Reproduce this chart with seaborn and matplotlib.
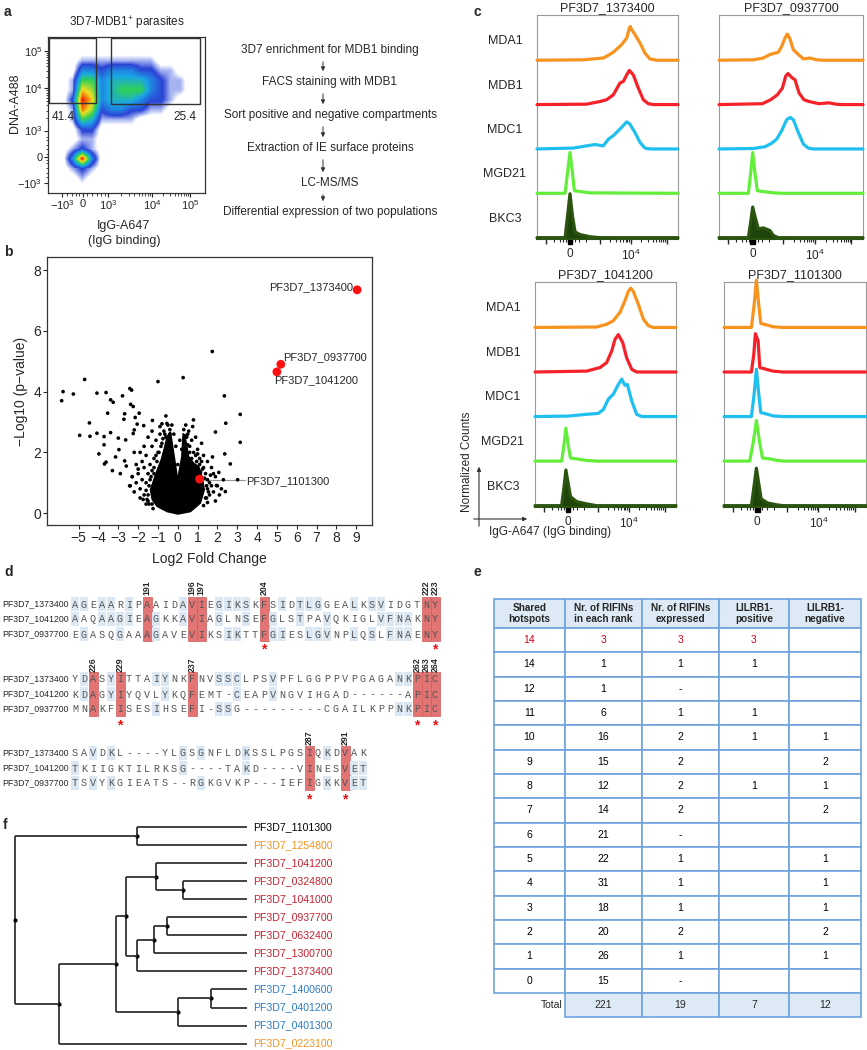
import numpy as np
import pandas as pd
import matplotlib
matplotlib.use("Agg")
import matplotlib.pyplot as plt
import seaborn as sns
from matplotlib.patches import Rectangle
from matplotlib.colors import LinearSegmentedColormap

W, H = 867, 1050

sns.set_style("ticks")
plt.rcParams['font.family'] = ['Liberation Sans', 'DejaVu Sans']
plt.rcParams['mathtext.fontset'] = 'custom'
plt.rcParams['mathtext.rm'] = 'Liberation Sans'
plt.rcParams['mathtext.it'] = 'Liberation Sans:italic'
plt.rcParams['mathtext.bf'] = 'Liberation Sans:bold'

# ---------------- data ----------------
# a: FACS dot plot, density read per cell (16 x 16, bottom row first)
facs_density = [
    [0, 0, 0, 0, 0, 0, 0, 0, 0, 0, 0, 0, 0, 0, 0, 0],
    [0, 0, 0, 1, 0, 0, 0, 0, 0, 0, 0, 0, 0, 0, 0, 0],
    [0, 0, 1, 2, 1, 0, 0, 0, 0, 0, 0, 0, 0, 0, 0, 0],
    [0, 0, 3, 9, 3, 0, 0, 0, 0, 0, 0, 0, 0, 0, 0, 0],
    [0, 0, 1, 2, 1, 0, 0, 0, 0, 0, 0, 0, 0, 0, 0, 0],
    [0, 0, 0, 1, 1, 0, 0, 0, 0, 0, 0, 0, 0, 0, 0, 0],
    [0, 0, 0, 2, 2, 0, 0, 0, 0, 0, 0, 0, 0, 0, 0, 0],
    [0, 0, 1, 5, 4, 1, 1, 1, 1, 0, 0, 0, 0, 0, 0, 0],
    [0, 0, 1, 8, 6, 2, 3, 3, 2, 2, 1, 1, 0, 0, 0, 0],
    [0, 0, 2, 9, 7, 3, 4, 4, 4, 3, 2, 2, 1, 0, 0, 0],
    [0, 0, 1, 7, 6, 3, 4, 5, 5, 5, 3, 2, 1, 1, 0, 0],
    [0, 0, 1, 5, 5, 3, 4, 4, 4, 4, 3, 2, 1, 1, 0, 0],
    [0, 0, 0, 3, 3, 2, 3, 3, 3, 2, 2, 1, 1, 0, 0, 0],
    [0, 0, 0, 1, 1, 1, 1, 1, 1, 1, 1, 0, 0, 0, 0, 0],
    [0, 0, 0, 0, 0, 0, 0, 0, 0, 0, 0, 0, 0, 0, 0, 0],
    [0, 0, 0, 0, 0, 0, 0, 0, 0, 0, 0, 0, 0, 0, 0, 0],
]
gate_left = (0.006, 0.574, 0.306, 0.995)
gate_right = (0.40, 0.568, 0.97, 0.995)
gate_pct = ["41.4", "25.4"]
flow_steps = ["3D7 enrichment for MDB1 binding", "FACS staining with MDB1",
              "Sort positive and negative compartments", "Extraction of IE surface proteins",
              "LC-MS/MS", "Differential expression of two populations"]

# b: volcano plot
vol_x = [1.74, 0.27, -1.0, -4.7, -5.79, -5.86, -5.27, -4.08, -3.62, -2.42, -2.33, -2.79, -3.39,
         -3.26, -2.38, -2.25, 2.35, 3.15, -3.54, -2.68, -2.72, -4.46, -4.95, -4.43, -4.08, -3.72,
         -3.39, -3.0, -2.63, -2.2, -2.25, -1.95, -2.15, -2.05, -1.72, -1.28, -0.8, -0.6, 0.79,
         2.42, 1.9, 3.15, 2.37, -3.98, -3.62, -3.72, -2.97, -3.14, -2.68, -2.43, 2.65, 2.4, 3.02,
         1.75, 2.07, 1.95, -3.7, -3.3, -2.9, -2.6, -2.3, -2.0, -1.7, -1.5, -1.3, -0.9, -0.4, 0.55,
         0.9, 1.2, 1.5, 0.75,
         -1.9, -1.8, -1.7, -1.6, -1.5, -1.4, -1.3, -1.2, -1.1, -1.0, -0.9, -0.8, -0.7, -0.6, -0.5,
         -0.4, -2.1, -2.0, -1.9, -1.8, -1.7, -1.6, -1.5, -1.4, -1.6, -1.9, -2.2, -2.3, -2.4, -2.1,
         -2.2, -1.3, -1.2, 0.3, 0.5, 0.6, 0.7, 0.8, 0.9, 1.0, 1.1, 1.2, 1.3, 1.4, 1.5, 1.5, 1.6,
         1.6, 1.7, 1.4, 1.8, 1.9, 1.7, 1.8, 2.0, 2.1, 1.9, 1.3, 1.15, 2.2, 2.3, -0.2, -0.1, 0.1,
         0.2, 0.0, -0.3, 0.4, 0.45,
         -1.45, -1.5, -1.45, -1.35, -1.2, -1.05, -0.95, -0.85, -0.75, -0.65, -1.6, -1.55, -1.3,
         -1.1, 1.45, 1.45, 1.35, 1.25, 1.1, 0.95, 0.7, 0.6, 0.5, 1.55, 1.5, 1.3, -1.75, -1.25,
         -0.55, 0.35, 1.0, 1.65]
vol_y = [5.32, 4.46, 4.33, 4.4, 4.0, 3.7, 3.92, 3.95, 3.97, 4.1, 4.05, 3.86, 3.73,
         3.65, 3.58, 3.51, 3.86, 3.25, 3.29, 3.27, 3.09, 2.97, 2.56, 2.53, 2.63, 2.52,
         2.65, 2.47, 2.41, 2.74, 2.62, 3.29, 3.15, 2.93, 2.88, 3.05, 2.94, 3.2, 3.07,
         2.96, 2.67, 2.33, 1.95, 1.95, 1.68, 2.25, 2.09, 1.85, 1.72, 0.9, 1.62, 0.71, 1.1,
         1.85, 1.34, 0.91, 1.62, 1.4, 1.3, 1.55, 1.2, 1.45, 2.2, 2.5, 2.7, 2.85, 2.75, 2.7,
         2.5, 2.3, 1.7, 2.85,
         2.0, 1.7, 1.5, 1.9, 1.3, 1.6, 2.2, 1.8, 2.4, 2.0, 2.6, 2.3, 2.7, 2.5, 2.9,
         2.6, 1.0, 1.3, 0.8, 1.1, 0.6, 1.0, 0.4, 1.1, 0.3, 0.5, 0.7, 1.2, 0.9, 1.6,
         2.0, 0.3, 1.3, 2.75, 2.6, 2.2, 2.4, 2.0, 1.9, 2.1, 1.8, 1.7, 1.5, 1.3, 1.1, 0.8, 1.0,
         0.6, 0.9, 0.5, 0.7, 1.2, 1.5, 1.3, 0.9, 0.6, 0.4, 1.9, 1.35, 0.8, 1.1, 2.6, 2.2, 2.4,
         2.1, 1.6, 2.9, 2.9, 2.5,
         0.3, 0.6, 0.9, 1.2, 1.5, 1.7, 2.0, 2.2, 2.45, 2.6, 0.75, 0.45, 1.4,
         1.9, 0.5, 0.9, 1.15, 1.45, 1.6, 1.7, 1.8, 2.0, 2.25, 0.7, 0.35, 0.25, 0.45, 0.15,
         2.95, 2.55, 1.95, 1.25]
# outline of the saturated core of the volcano
core_x = [0.0, -0.54, -1.04, -1.29, -1.38, -1.21, -1.04, -0.84, -0.70, -0.54, -0.37, -0.23,
          -0.06, 0.0, 0.06, 0.2, 0.27, 0.40, 0.55, 0.81, 1.06, 1.22, 1.34, 1.14, 0.64]
core_y = [-0.03, 0.05, 0.22, 0.44, 0.77, 1.10, 1.42, 1.75, 2.08, 2.52, 2.68, 2.08,
          1.35, 1.05, 1.35, 1.86, 2.63, 2.41, 1.86, 1.64, 1.53, 1.21, 0.77, 0.33, 0.05]
hit_names = ["PF3D7_1373400", "PF3D7_0937700", "PF3D7_1041200", "PF3D7_1101300"]
hit_x = [9.05, 5.2, 5.0, 1.1]
hit_y = [7.35, 4.9, 4.65, 1.12]

# c: histograms (x in display units 0-100, height in lane units)
c_antibodies = ["MDA1", "MDB1", "MDC1", "MGD21", "BKC3"]
c_colors = ["#F7931E", "#F5222A", "#1FBFEF", "#62EE3A", "#2B5410"]
c_1373400 = {
    "MDA1": ([32.8, 47.0, 49.4, 54.1, 60.0, 63.6, 65.5, 66.2, 67.1, 69.5, 73.0, 76.6, 80.1, 84.9],
             [0.01, 0.05, 0.09, 0.18, 0.35, 0.5, 0.72, 0.76, 0.69, 0.58, 0.39, 0.16, 0.03, 0.0]),
    "MDB1": ([35.2, 44.7, 49.4, 54.1, 58.9, 61.2, 63.6, 65.5, 68.3, 71.9, 75.4, 78.9, 82.5],
             [0.01, 0.07, 0.11, 0.22, 0.49, 0.52, 0.67, 0.77, 0.67, 0.37, 0.11, 0.02, 0.0]),
    "MDC1": ([25.8, 35.2, 41.1, 47.0, 50.6, 54.1, 58.9, 63.6, 65.9, 69.5, 73.0, 76.6, 80.1],
             [0.02, 0.07, 0.1, 0.07, 0.22, 0.3, 0.45, 0.61, 0.56, 0.37, 0.15, 0.02, 0.0]),
    "MGD21": ([19.9, 21.7, 23.4, 25.1, 26.5, 30.5, 37.6], [0.0, 0.47, 0.92, 0.47, 0.06, 0.04, 0.01]),
    "BKC3": ([19.9, 21.7, 23.4, 25.1, 27.0, 30.5, 37.6, 44.7], [0.0, 0.5, 0.99, 0.5, 0.13, 0.07, 0.02, 0.0]),
}
c_0937700 = {
    "MDA1": ([23.8, 30.8, 35.4, 41.2, 43.5, 45.8, 47.5, 49.3, 51.6, 55.1, 58.6, 63.2, 67.8, 72.5],
             [0.01, 0.05, 0.13, 0.18, 0.31, 0.5, 0.59, 0.48, 0.24, 0.13, 0.03, 0.05, 0.01, 0.0]),
    "MDB1": ([30.1, 35.9, 40.5, 44.0, 46.3, 47.9, 50.9, 52.8, 55.6, 59.0, 62.5, 69.4, 76.4, 81.0, 85.6],
             [0.02, 0.11, 0.22, 0.37, 0.64, 0.7, 0.6, 0.56, 0.26, 0.11, 0.07, 0.02, 0.04, 0.01, 0.0]),
    "MDC1": ([23.8, 31.9, 36.6, 40.0, 43.5, 47.0, 49.3, 51.6, 55.1, 58.6, 62.0, 65.5],
             [0.01, 0.05, 0.13, 0.22, 0.41, 0.66, 0.71, 0.66, 0.37, 0.11, 0.02, 0.0]),
    "MGD21": ([20.4, 22.0, 23.4, 25.0, 26.6, 30.8, 37.7, 44.7], [0.0, 0.45, 0.92, 0.45, 0.06, 0.04, 0.01, 0.0]),
    "BKC3": ([20.4, 22.0, 23.4, 25.2, 27.3, 30.8, 35.4, 37.7, 41.2],
             [0.0, 0.35, 0.69, 0.45, 0.2, 0.22, 0.16, 0.05, 0.0]),
}
c_1041200 = {
    "MDA1": ([43.7, 50.8, 55.5, 60.3, 63.8, 66.2, 67.9, 69.7, 73.3, 76.8, 80.4, 83.9],
             [0.01, 0.07, 0.15, 0.34, 0.6, 0.81, 0.88, 0.81, 0.52, 0.19, 0.04, 0.0]),
    "MDB1": ([36.6, 46.1, 50.8, 54.4, 56.7, 59.1, 62.2, 65.0, 68.6, 72.1],
             [0.02, 0.1, 0.21, 0.47, 0.73, 0.84, 0.66, 0.32, 0.06, 0.0]),
    "MDC1": ([23.2, 36.6, 44.9, 48.5, 52.0, 55.5, 59.1, 61.5, 63.8, 65.5, 68.6, 72.1, 75.7],
             [0.01, 0.05, 0.07, 0.16, 0.39, 0.5, 0.72, 0.84, 0.7, 0.72, 0.35, 0.05, 0.0]),
    "MGD21": ([18.9, 20.5, 21.9, 23.6, 25.2, 29.6, 36.6, 43.7], [0.0, 0.35, 0.74, 0.35, 0.07, 0.05, 0.015, 0.0]),
    "BKC3": ([18.9, 20.5, 21.9, 23.8, 25.2, 29.6, 36.6, 43.7], [0.0, 0.4, 0.8, 0.45, 0.2, 0.09, 0.04, 0.0]),
}
c_1101300 = {
    "MDA1": ([19.3, 21.2, 22.8, 24.5, 25.9, 29.8, 34.5, 41.5], [0.0, 0.5, 1.06, 0.5, 0.09, 0.06, 0.015, 0.0]),
    "MDB1": ([19.3, 21.0, 22.1, 24.0, 25.2, 29.8, 34.5, 41.5], [0.0, 0.4, 0.86, 0.7, 0.1, 0.06, 0.02, 0.0]),
    "MDC1": ([19.3, 21.2, 22.8, 24.5, 25.9, 29.8, 34.5, 41.5], [0.0, 0.5, 1.06, 0.5, 0.09, 0.06, 0.015, 0.0]),
    "MGD21": ([18.1, 20.5, 22.8, 25.2, 27.1, 32.2, 36.9, 41.5], [0.0, 0.4, 0.91, 0.4, 0.07, 0.05, 0.02, 0.0]),
    "BKC3": ([19.3, 21.2, 22.8, 24.7, 26.2, 30.7, 36.9, 41.5], [0.0, 0.45, 0.84, 0.45, 0.15, 0.06, 0.02, 0.0]),
}

# d: alignment
seq_names = ["PF3D7_1373400", "PF3D7_1041200", "PF3D7_0937700"]
block1 = ["AGEAARIPAAIDAVIEGIKSKFSIDTLGGEALKSVIDGTNY",
          "AAQAAGIEAGKKAVIAGLNSEFGLSTPAVQKIGLVFNAKNY",
          "EGASQGAAAGAVEVIKSIKTTFGIESLGVNPLQSLFNAENY"]
block1_hot = [8, 13, 14, 21, 39, 40]
block1_pos = [191, 196, 197, 204, 222, 223]
block1_star = [21, 40]
block2 = ["YDASYITTAIYNKFNVSSCLPSVPFLGGPPVPGAGANKPIC",
          "KDAGYIYQVLYKQFEMT-CEAPVNGVIHGAD------APIC",
          "MNAKFISESIHSEFI-SSG---------CGAILKPPNKPIC"]
block2_hot = [2, 5, 13, 38, 39, 40]
block2_pos = [226, 229, 237, 262, 263, 264]
block2_star = [5, 38, 40]
block3 = ["SAVDKL----YLGSGNFLDKSSLPGSIQKDVAK",
          "TKIIGKTILRKSG----TAKD----VINESVET",
          "TSVYKGIEATS--RGKGVKP---IEFIGKKVET"]
block3_hot = [26, 30]
block3_pos = [287, 291]
block3_star = [26, 30]

# e: table
tab_header = ["Shared\nhotspots", "Nr. of RIFINs\nin each rank", "Nr. of RIFINs\nexpressed",
              "LILRB1-\npositive", "LILRB1-\nnegative"]
hotspots = ["14", "14", "12", "11", "10", "9", "8", "7", "6", "5", "4", "3", "2", "1", "0"]
n_rank = ["3", "1", "1", "6", "16", "15", "12", "14", "21", "22", "31", "18", "20", "26", "15"]
n_expr = ["3", "1", "-", "1", "2", "2", "2", "2", "-", "1", "1", "1", "2", "1", "-"]
n_pos = ["3", "1", "", "1", "1", "", "1", "", "", "", "", "", "", "", ""]
n_neg = ["", "", "", "", "1", "2", "1", "2", "", "1", "1", "1", "2", "1", ""]
totals = ["221", "19", "7", "12"]

# f: tree
leaves = ["PF3D7_1101300", "PF3D7_1254800", "PF3D7_1041200", "PF3D7_0324800", "PF3D7_1041000",
          "PF3D7_0937700", "PF3D7_0632400", "PF3D7_1300700", "PF3D7_1373400", "PF3D7_1400600",
          "PF3D7_0401200", "PF3D7_0401300", "PF3D7_0223100"]
leaf_group = ["none", "orange", "red", "red", "red", "red", "red", "red", "red",
              "blue", "blue", "blue", "orange"]
tree_nodes = {
    "A": (137, [0, 1]), "H": (183, [3, 4]), "F": (156, [2, "H"]), "J": (167, [5, 6]),
    "I": (154, ["J", 7]), "G": (137, ["I", 8]), "D": (126, ["F", "G"]), "K": (211, [9, 10]),
    "E": (178, ["K", 11]), "C": (116, ["D", "E"]), "B": (59, ["C", 12]), "root": (15, ["A", "B"]),
}
leaf_tip = 247

# ---------------- figure ----------------
fig = plt.figure(figsize=(W / 100, H / 100), dpi=100)


def pax(x0, y0, x1, y1):
    return fig.add_axes([x0 / W, 1 - y1 / H, (x1 - x0) / W, (y1 - y0) / H])


ov = fig.add_axes([0, 0, 1, 1])
ov.set_xlim(0, W)
ov.set_ylim(H, 0)
ov.axis("off")

for lab, (x, y) in zip("abcdef", [(4, 12), (4, 252), (474, 12), (4, 572), (473, 572), (3, 825)]):
    ov.text(x, y, lab, fontsize=10, fontweight="bold", va="center")

# ---- a ----
axa = pax(48, 37, 205, 193)
cmap = LinearSegmentedColormap.from_list("facs", [(0, "white"), (0.05, "white"), (0.1, "#b4c0f4"),
                                                  (0.2, "#2c44d6"), (0.4, "#1aa6e6"),
                                                  (0.55, "#2fd05a"), (0.75, "#f0e020"),
                                                  (1.0, "#ee1a00")])
axa.imshow(np.array(facs_density), origin="lower", extent=(0, 1, 0, 1), cmap=cmap, vmin=0, vmax=9,
           interpolation="bilinear", aspect="auto")
for g in (gate_left, gate_right):
    axa.add_patch(Rectangle((g[0], g[1]), g[2] - g[0], g[3] - g[1], fill=False, ec="#333", lw=1.0))
axa.text(0.096, 0.49, gate_pct[0], fontsize=8.5, ha="center", va="center")
axa.text(0.87, 0.49, gate_pct[1], fontsize=8.5, ha="center", va="center")
axa.set_xlim(0, 1)
axa.set_ylim(0, 1)
axa.set_yticks([0.064, 0.232, 0.40, 0.67, 0.908])
axa.set_yticklabels([r"$-10^3$", "0", r"$10^3$", r"$10^4$", r"$10^5$"], fontsize=8)
axa.set_xticks([0.089, 0.223, 0.382, 0.662, 0.904])
axa.set_xticklabels([r"$-10^3$", "0", r"$10^3$", r"$10^4$", r"$10^5$"], fontsize=8)
minor = [0.10, 0.13, 0.16, 0.19, 0.21, 0.25, 0.28, 0.31, 0.34, 0.36]
minor += [0.40 + 0.27 * np.log10(k) for k in range(2, 10)] + [0.67 + 0.238 * np.log10(k) for k in range(2, 10)]
axa.set_yticks(minor, minor=True)
axa.set_xticks([0.12, 0.15, 0.18, 0.20, 0.25, 0.28, 0.31, 0.34, 0.36]
               + [0.382 + 0.28 * np.log10(k) for k in range(2, 10)]
               + [0.662 + 0.242 * np.log10(k) for k in range(2, 10)], minor=True)
axa.tick_params(which="major", length=3, width=0.8, pad=1)
axa.tick_params(which="minor", length=1.8, width=0.6)
for s in axa.spines.values():
    s.set_linewidth(0.9)
    s.set_color("#333")
ov.text(127, 23, "3D7-MDB1$^{+}$ parasites", fontsize=8.5, ha="center", va="center")
ov.text(15, 103, "DNA-A488", fontsize=9, rotation=90, ha="center", va="center")
ov.text(124, 226, "IgG-A647", fontsize=9, ha="center", va="center")
ov.text(124, 241, "(IgG binding)", fontsize=9, ha="center", va="center")
flow_y = [50, 82, 115, 148, 183, 212]
for t, y in zip(flow_steps, flow_y):
    ov.text(330, y, t, fontsize=8.5, ha="center", va="center")
for y0, y1 in zip(flow_y[:-1], flow_y[1:]):
    ov.annotate("", xy=(323, y1 - 8), xytext=(323, y0 + 9),
                arrowprops=dict(arrowstyle="-|>", color="#333", lw=0.7, mutation_scale=6))

# ---- b ----
axb = pax(47, 257, 372, 525)
axb.fill(core_x, core_y, color="black", lw=1.0, zorder=2)
sns.scatterplot(x=vol_x, y=vol_y, ax=axb, color="black", s=7, edgecolor="none", zorder=3)
axb.plot([1.2, 3.4], [1.1, 1.1], color="#999", lw=0.9, zorder=2)
sns.scatterplot(x=hit_x, y=hit_y, ax=axb, color="#FF1010", s=40, edgecolor="none", zorder=5)
axb.text(8.85, 7.43, hit_names[0], fontsize=8, ha="right", va="center")
axb.text(5.34, 5.13, hit_names[1], fontsize=8, ha="left", va="center")
axb.text(4.87, 4.38, hit_names[2], fontsize=8, ha="left", va="center")
axb.text(3.46, 1.06, hit_names[3], fontsize=8, ha="left", va="center")
axb.set_xlim(-6.6, 9.8)
axb.set_ylim(-0.39, 8.43)
axb.set_xticks(range(-5, 10))
axb.set_yticks([0, 2, 4, 6, 8])
axb.tick_params(labelsize=10, length=3, width=0.8, pad=1)
axb.set_xlabel("Log2 Fold Change", fontsize=10, labelpad=5)
axb.set_ylabel("\u2212Log10 (p\u2212value)", fontsize=10, labelpad=4)
for s in axb.spines.values():
    s.set_linewidth(0.9)
    s.set_color("#333")

# ---- c ----
c_panels = [(c_1373400, "PF3D7_1373400", (537, 15, 678, 239), True),
            (c_0937700, "PF3D7_0937700", (719, 15, 863, 239), False),
            (c_1041200, "PF3D7_1041200", (535, 282, 676, 507), True),
            (c_1101300, "PF3D7_1101300", (724, 282, 866, 507), False)]
c_major = [6.4, 23.4, 44.7, 66.5, 92.0]
c_minor = [12, 16, 18.5, 20.5, 22, 22.8, 24, 25, 27, 30, 35, 52, 56, 59, 61, 62.8, 64, 65.2,
           74, 79, 82, 84.5, 86.5, 88, 89.5, 91]
for curves, title, box, show_lab in c_panels:
    ax = pax(*box)
    for i, ab in enumerate(c_antibodies):
        base = 4 - i
        xs, hs = curves[ab]
        x = np.array([0.0] + list(xs) + [100.0])
        y = base + np.array([0.0] + list(hs) + [0.0])
        if ab == "BKC3":
            ax.fill_between(x, base, y, color="#1E440A", lw=0, zorder=2)
        sns.lineplot(x=x, y=y, ax=ax, color=c_colors[i], lw=2.3, sort=False, zorder=3,
                     estimator=None, clip_on=False)
        if show_lab:
            ax.text(-22.7, base + 0.43, ab, fontsize=9, ha="center", va="center", clip_on=False)
    ax.set_xlim(0, 100)
    ax.set_ylim(-0.03, 5.02)
    ax.set_yticks([])
    ax.set_xticks(c_major)
    ax.set_xticklabels(["", "0", "", r"$10^4$", ""], fontsize=8.5)
    ax.set_xticks(c_minor, minor=True)
    ax.tick_params(axis="x", which="major", length=3.5, width=1.0, pad=3)
    ax.tick_params(axis="x", which="minor", length=2, width=0.8)
    ax.set_title(title, fontsize=9, pad=3)
    for k, s in ax.spines.items():
        s.set_color("#999")
        s.set_linewidth(0.8)
    ax.spines["bottom"].set_color("#2B5410")
    ax.spines["bottom"].set_linewidth(1.5)
    ax.add_patch(Rectangle((21.8, -0.14), 3.2, 0.1, color="black", clip_on=False))
ov.annotate("", xy=(479, 464), xytext=(479, 529),
            arrowprops=dict(arrowstyle="-|>", color="#333", lw=0.8, mutation_scale=6))
ov.annotate("", xy=(530, 519), xytext=(471, 519),
            arrowprops=dict(arrowstyle="-|>", color="#333", lw=0.8, mutation_scale=6))
ov.text(467, 462, "Normalized Counts", fontsize=8.5, rotation=90, ha="center", va="center")
ov.text(489, 532, "IgG-A647 (IgG binding)", fontsize=8.5, ha="left", va="center")

# ---- d ----
dx, x0 = 9.0, 75
blocks = [(block1, block1_hot, block1_pos, block1_star, [604, 619, 634], 588, 647),
          (block2, block2_hot, block2_pos, block2_star, [679, 694, 709], 665, 723),
          (block3, block3_hot, block3_pos, block3_star, [753, 768, 783], 738, 797)]
for seqs, hot, pos, star, rows_y, num_y, star_y in blocks:
    for j in hot:
        ov.add_patch(Rectangle((x0 + j * dx - dx / 2, rows_y[0] - 7), dx, rows_y[2] - rows_y[0] + 14,
                               fc="#E37474", ec="#D25A5A", lw=0.5, zorder=1))
    for r, (seq, y) in enumerate(zip(seqs, rows_y)):
        ov.text(2, y, seq_names[r], fontsize=6.3, ha="left", va="center")
        for j, ch in enumerate(seq):
            others = [s[j] for k, s in enumerate(seqs) if k != r and j < len(s)]
            if ch != "-" and j not in hot and ch in others:
                ov.add_patch(Rectangle((x0 + j * dx - 4.3, y - 6.8), 8.6, 13.6, fc="#DCE7F4",
                                       ec="none", zorder=1))
            ov.text(x0 + j * dx, y + 0.5, ch, fontsize=7.3, family="Liberation Mono", color="#555",
                    ha="center", va="center", zorder=2)
    for j, p in zip(hot, pos):
        ov.text(x0 + j * dx, num_y, str(p), fontsize=6.3, fontweight="bold", rotation=90,
                ha="center", va="center")
    for j in star:
        ov.text(x0 + j * dx, star_y + 2, "*", fontsize=10, fontweight="bold", color="#EE1111",
                ha="center", va="center")

# ---- e ----
cols = [494, 565, 642, 719, 789, 861]
top, hdr_bot, row_h = 599, 628, 24.33
edge = "#6FA3DC"
for c in range(5):
    ov.add_patch(Rectangle((cols[c], top), cols[c + 1] - cols[c], hdr_bot - top, fc="#DDEAF6",
                           ec=edge, lw=1.2))
    ov.text((cols[c] + cols[c + 1]) / 2, (top + hdr_bot) / 2, tab_header[c], fontsize=7.2,
            fontweight="bold", ha="center", va="center", linespacing=1.15)
table_cols = [hotspots, n_rank, n_expr, n_pos, n_neg]
for i in range(len(hotspots)):
    y = hdr_bot + i * row_h
    color = "#D0021B" if i == 0 else "black"
    for c in range(5):
        ov.add_patch(Rectangle((cols[c], y), cols[c + 1] - cols[c], row_h, fc="white", ec=edge, lw=1.2))
        ov.text((cols[c] + cols[c + 1]) / 2, y + row_h / 2, table_cols[c][i], fontsize=7.5,
                color=color, ha="center", va="center")
y = hdr_bot + len(hotspots) * row_h
ov.text(cols[1] - 2, y + row_h / 2, "Total", fontsize=7.5, ha="right", va="center")
for c in range(1, 5):
    ov.add_patch(Rectangle((cols[c], y), cols[c + 1] - cols[c], row_h, fc="#DDEAF6", ec=edge, lw=1.2))
    ov.text((cols[c] + cols[c + 1]) / 2, y + row_h / 2, totals[c - 1], fontsize=7.5,
            ha="center", va="center")

# ---- f ----
leaf_y = [827 + i * 18.05 for i in range(len(leaves))]
group_color = {"none": "black", "orange": "#F7931E", "red": "#C8202F", "blue": "#2B7BC4"}


def node_pos(n):
    if isinstance(n, int):
        return leaf_tip, leaf_y[n]
    x, kids = tree_nodes[n]
    return x, np.mean([node_pos(k)[1] for k in kids])


for name, (x, kids) in tree_nodes.items():
    _, y = node_pos(name)
    kid_pos = [node_pos(k) for k in kids]
    ys = [p[1] for p in kid_pos]
    ov.plot([x, x], [min(ys), max(ys)], color="#333", lw=1.3, solid_capstyle="butt")
    for kx, ky in kid_pos:
        ov.plot([x, kx], [ky, ky], color="#333", lw=1.3, solid_capstyle="butt")
    ov.plot([x], [y], "o", color="black", ms=2)
for i, name in enumerate(leaves):
    ov.text(253, leaf_y[i], name, fontsize=7.6, color=group_color[leaf_group[i]], ha="left", va="center")

fig.savefig("out.png", dpi=100)
